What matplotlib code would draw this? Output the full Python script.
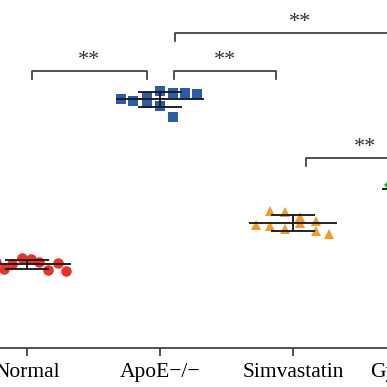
import matplotlib
matplotlib.use("Agg")
import matplotlib.pyplot as plt
import numpy as np

# groups and their point values (arbitrary units)
groups = ["Normal", "ApoE\u2212/\u2212", "Simvastatin", "Gypenosides"]
normal = [8.2, 8.6, 7.9, 8.4, 9.0, 8.9, 8.6, 7.8, 8.5, 7.7]
apoe = [24.9, 24.7, 25.1, 24.5, 25.7, 24.2, 25.5, 23.1, 25.5, 25.4]
simva = [12.3, 13.7, 12.2, 13.6, 11.9, 13.1, 12.5, 12.7, 11.7, 11.4]
gyp = [16.3, 15.6, 16.0, 15.8, 16.5, 15.3, 16.1, 15.7, 16.2, 15.5]

# horizontal jitter of each point inside its group
normal_dx = [-0.29, -0.23, -0.17, -0.11, -0.04, 0.03, 0.09, 0.16, 0.23, 0.29]
apoe_dx = [-0.29, -0.20, -0.10, -0.10, 0.0, 0.0, 0.10, 0.10, 0.19, 0.28]
simva_dx = [-0.28, -0.17, -0.17, -0.06, -0.06, 0.05, 0.05, 0.17, 0.17, 0.27]
gyp_dx = [-0.26, -0.19, -0.10, -0.10, 0.0, 0.0, 0.10, 0.10, 0.19, 0.28]

# significance brackets: left x, right x, height, label
brackets = [
    (0.04, 0.90, 27.7, "**"),
    (1.105, 1.872, 27.7, "**"),
    (1.113, 2.99, 31.5, "**"),
    (2.098, 2.99, 19.0, "**"),
]

values = [normal, apoe, simva, gyp]
offsets = [normal_dx, apoe_dx, simva_dx, gyp_dx]
colors = ["#e8332a", "#2c5ba8", "#f29a2e", "#2f9a3e"]
markers = ["o", "s", "^", "D"]
msizes = [7.6, 6.8, 7.0, 6.8]

plt.rcParams["font.family"] = ["Liberation Serif", "DejaVu Serif"]
plt.rcParams["savefig.bbox"] = "standard"

fig = plt.figure(figsize=(3.87, 3.87), dpi=100)
ax = fig.add_axes([0, 39 / 387, 1, 348 / 387])

for i in range(len(groups)):
    y = np.array(values[i])
    x = i + np.array(offsets[i])
    ax.plot(x, y, linestyle="none", marker=markers[i], color=colors[i],
            markersize=msizes[i], markeredgewidth=0, zorder=2)
    m = y.mean()
    sd = y.std(ddof=1)
    # mean line, sd caps and vertical bar
    ax.hlines(m, i - 0.33, i + 0.33, color="#1a1a1a", lw=1.35, zorder=3)
    ax.hlines([m - sd, m + sd], i - 0.165, i + 0.165, color="#1a1a1a", lw=1.35, zorder=3)
    ax.vlines(i, m - sd, m + sd, color="#1a1a1a", lw=1.35, zorder=3)

for x0, x1, h, lab in brackets:
    ax.plot([x0, x0, x1, x1], [h - 0.8, h, h, h - 0.8], color="#333333", lw=1.2)
    ax.text((x0 + x1) / 2, h + 0.1, lab, ha="center", va="bottom",
            fontsize=16, color="#333333")

ax.set_xticks(range(len(groups)))
ax.set_xticklabels(groups, fontsize=15.5)
# last group sits past the right edge, so its tick label is drawn by hand
ax.annotate(groups[-1], xy=(len(groups) - 1, 0), xycoords=("data", "axes fraction"),
            xytext=(0, -11), textcoords="offset points", ha="center", va="top",
            fontsize=15.5, annotation_clip=False)
ax.set_xlim(-27 / 133, 360 / 133)
ax.set_ylim(0, 34.8)
ax.set_yticks([])
for s in ["left", "right", "top"]:
    ax.spines[s].set_visible(False)
ax.spines["bottom"].set_linewidth(1.2)
ax.spines["bottom"].set_color("#333333")
ax.tick_params(axis="x", length=5.5, width=1.2, color="#333333", pad=5.5)

fig.savefig("out.png", dpi=100, bbox_inches=None)
